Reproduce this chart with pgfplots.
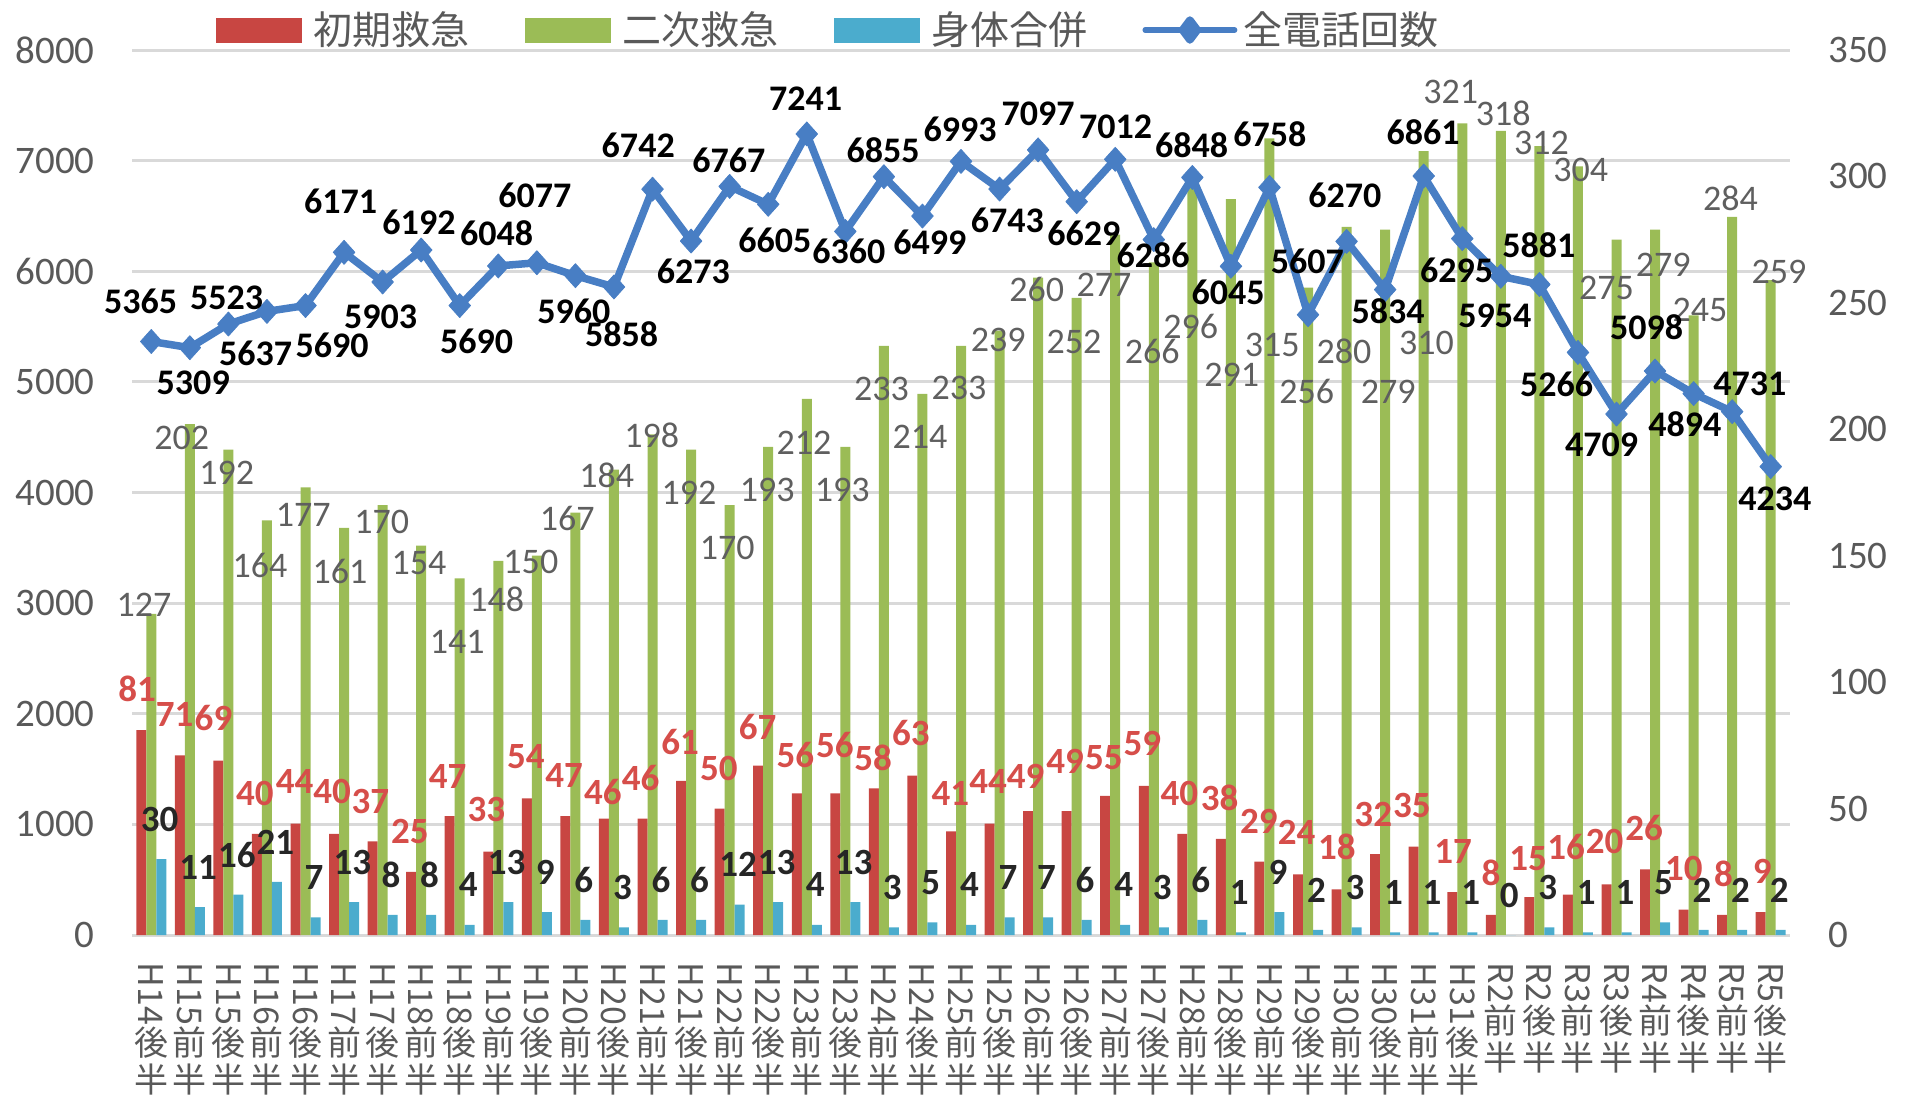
\documentclass[border=0pt]{standalone}
\usepackage{fontspec}
\setmainfont{Carlito}
\newfontfamily\jp{Noto Sans CJK JP}
\usepackage{graphicx}
\usepackage{pgfplots}
\usepackage{pgfplotstable}
\pgfplotsset{compat=1.18}

\definecolor{cred}{RGB}{200,70,66}
\definecolor{clred}{RGB}{214,78,74}
\definecolor{cgreen}{RGB}{155,188,86}
\definecolor{ccyan}{RGB}{75,172,205}
\definecolor{cblue}{RGB}{72,126,196}
\definecolor{tgray}{RGB}{89,89,89}
\definecolor{ggray}{RGB}{95,95,95}
\definecolor{gridc}{RGB}{217,217,217}
\definecolor{cdark}{RGB}{38,38,38}

\pgfplotsset{
  /pgf/number format/assume math mode=true,
  /pgf/number format/1000 sep={},
  base/.style={at={(66pt,85pt)}, anchor=south west, width=829pt, height=442.5pt,
    scale only axis, xmin=-0.5, xmax=42.5, clip=false},
}
\newcommand{\xtl}[2]{\rotatebox{-90}{#1}\\#2\\半}

% x  g(二次) r(初期) c(身体合併) label offsets (pt)
\pgfplotstableread{
x g r c gdx gdy rdx rdy
0 127 81 30 -3.65 4.5 -2.1 20.5
1 202 71 11 -4.1 -7 -2.6 20.25
2 192 69 16 -0.85 -11.9 -2.45 21.5
3 164 40 21 -3.5 -22.35 -1.05 20.3
4 177 44 7 -1.1 -13.8 -0.5 21
5 161 40 13 -2.05 -21.9 -1 21.1
6 170 37 8 -0.5 -8.3 -1.15 19.85
7 154 25 8 -1.1 -8.85 -0.6 20
8 141 47 4 -1.25 -31.6 -1.1 19.75
9 148 33 13 -0.8 -19.1 -0.95 20.8
10 150 54 9 -3 -3 -0.5 20.9
11 167 47 6 -4.1 -2.8 -0.6 20.5
12 184 46 3 -3.65 -2.65 -0.5 13.5
13 198 46 6 -0.45 -0.35 -1 20.2
14 192 61 6 -1.05 -21.9 -0.5 19.5
15 170 50 12 -1.2 -21.6 -0.35 20.15
16 193 67 13 -0.5 -21.5 -0.3 19.5
17 212 56 4 -1.4 -22.15 -0.7 19.2
18 193 56 13 -1.5 -21.5 -0.25 24.2
19 233 58 3 -1.15 -21.6 -0.35 15
20 214 63 5 -1.25 -21.4 -0.8 21.2
21 233 41 4 -1 -21 -0.35 19
22 239 44 7 -0.65 -4.65 -0.75 21
23 260 49 7 -0.75 -6.2 -1.25 17.2
24 252 49 6 -1.35 -21.95 -0.75 24.7
25 277 55 4 -5.65 -25.2 -0.65 19.3
26 266 59 3 -0.8 -44.65 -0.75 21.25
27 296 40 6 -0.85 -70.1 -1.55 20
28 291 38 1 0.35 -87.9 -0.7 20.3
29 315 29 9 1.4 -103.25 -0.25 20
30 256 24 2 -0.65 -52 -0.75 21
31 280 18 3 -1.35 -62.35 0.2 21.1
32 279 32 1 1.5 -81 -0.95 19.55
33 310 35 1 1.45 -96.1 -0.95 20.75
34 321 17 1 -5.8 15.8 0.45 20.15
35 318 8 0 1.2 8.8 0.1 20.75
36 312 15 3 1.1 1.4 -0.6 19.4
37 304 16 1 1.35 -1.85 -0.95 23.9
38 275 20 1 -4.95 -24.35 -0.95 21.35
39 279 26 5 4.05 -17.75 -0.45 20.5
40 245 10 2 3.15 2.75 0.1 20.7
41 284 8 2 -0.8 9.3 0.6 20.4
42 259 9 2 4.1 4.2 0.8 20.25
}\bardata

% x  t(全電話回数) label offsets (pt)
\pgfplotstableread{
x t ldx ldy
0 5365 -5.3 19.9
1 5309 1.7 -17.8
2 5523 -0.85 13.35
3 5637 -5.65 -21
4 5690 13.25 -19.75
5 6171 -1.7 25.3
6 5903 -1 -17.65
7 6192 -1.1 13.85
8 5690 8.45 -18.1
9 6048 -0.8 16.35
10 6077 -1 33.5
11 5960 -0.75 -18
12 5858 3.85 -23.5
13 6742 -7.15 22.1
14 6273 1.1 -15.35
15 6767 -0.35 13.2
16 6605 3.35 -18.2
17 7241 -0.55 17.5
18 6360 1.8 -10.15
19 6855 -0.35 13
20 6499 3.75 -13.15
21 6993 -0.5 16
22 6743 3.85 -15.85
23 7097 0 18
24 6629 3.65 -15.8
25 7012 0.2 16
26 6286 -0.3 -8
27 6848 -0.35 16.2
28 6045 -1.35 -13
29 6758 0.25 26.7
30 5607 -0.35 26.5
31 6270 -0.85 23.2
32 5834 1.5 -10.8
33 6861 -0.25 22.15
34 6295 -2.8 -15.7
35 5954 -2.95 -19.7
36 5881 -0.25 19.7
37 5266 -10.65 -15.75
38 4709 -7.5 -15.5
39 5098 -4.25 22.15
40 4894 -4.35 -15.2
41 4731 8.85 13.8
42 4234 2.1 -16.2
}\linedata

\begin{document}
\begin{tikzpicture}
\useasboundingbox (0,0) rectangle (953pt,552.5pt);

% grid, left axis, category labels
\begin{axis}[base,
  ymin=0, ymax=8000, ytick={0,1000,...,8000}, scaled y ticks=false,
  ymajorgrids, grid style={gridc, line width=1.5pt},
  axis x line*=bottom, axis y line*=left, axis line style={draw=none},
  tick style={draw=none},
  yticklabel style={font=\fontsize{19.5}{21}\selectfont, text=tgray, inner sep=0pt, xshift=-18.5pt},
  xtick={0,...,42},
  xticklabels={{\xtl{H14}{後}},{\xtl{H15}{前}},{\xtl{H15}{後}},{\xtl{H16}{前}},{\xtl{H16}{後}},
    {\xtl{H17}{前}},{\xtl{H17}{後}},{\xtl{H18}{前}},{\xtl{H18}{後}},{\xtl{H19}{前}},{\xtl{H19}{後}},
    {\xtl{H20}{前}},{\xtl{H20}{後}},{\xtl{H21}{前}},{\xtl{H21}{後}},{\xtl{H22}{前}},{\xtl{H22}{後}},
    {\xtl{H23}{前}},{\xtl{H23}{後}},{\xtl{H24}{前}},{\xtl{H24}{後}},{\xtl{H25}{前}},{\xtl{H25}{後}},
    {\xtl{H26}{前}},{\xtl{H26}{後}},{\xtl{H27}{前}},{\xtl{H27}{後}},{\xtl{H28}{前}},{\xtl{H28}{後}},
    {\xtl{H29}{前}},{\xtl{H29}{後}},{\xtl{H30}{前}},{\xtl{H30}{後}},{\xtl{H31}{前}},{\xtl{H31}{後}},
    {\xtl{R2}{前}},{\xtl{R2}{後}},{\xtl{R3}{前}},{\xtl{R3}{後}},{\xtl{R4}{前}},{\xtl{R4}{後}},
    {\xtl{R5}{前}},{\xtl{R5}{後}}},
  xticklabel style={font=\jp\fontsize{17}{18.5}\selectfont, text=tgray, align=center,
    anchor=north, inner sep=0pt, yshift=-13.5pt},
]
\addplot[draw=none] coordinates {(0,0)};
\end{axis}

% bars, right axis
\begin{axis}[base,
  ymin=0, ymax=350, ytick={0,50,...,350},
  axis x line=none, axis y line*=right, axis line style={draw=none}, tick style={draw=none},
  yticklabel style={font=\fontsize{19.5}{21}\selectfont, text=tgray, inner sep=0pt, xshift=19pt},
]
\addplot[ybar, bar width=5pt, bar shift=-5pt, fill=cred, draw=none] table[x=x,y=r] {\bardata};
\addplot[ybar, bar width=5pt, bar shift=0pt, fill=cgreen, draw=none] table[x=x,y=g] {\bardata};
\addplot[ybar, bar width=5pt, bar shift=5pt, fill=ccyan, draw=none] table[x=x,y=c] {\bardata};
% labels
\addplot[ybar, bar width=5pt, bar shift=0pt, draw=none, fill=none,
  nodes near coords,
  visualization depends on={\thisrow{gdx}\as\ldx},
  visualization depends on={\thisrow{gdy}\as\ldy},
  every node near coord/.append style={anchor=center, inner sep=0pt, xshift=\ldx, yshift=\ldy,
    font=\fontsize{18}{20}\selectfont, text=ggray}]
  table[x=x,y=g] {\bardata};
\addplot[ybar, bar width=5pt, bar shift=0pt, draw=none, fill=none,
  nodes near coords,
  visualization depends on={\thisrow{rdx}-5\as\ldx},
  visualization depends on={\thisrow{rdy}\as\ldy},
  every node near coord/.append style={anchor=center, inner sep=0pt, xshift=\ldx, yshift=\ldy,
    font=\bfseries\fontsize{18.5}{20}\selectfont, text=clred}]
  table[x=x,y=r] {\bardata};
\addplot[ybar, bar width=5pt, bar shift=0pt, draw=none, fill=none,
  nodes near coords,
  every node near coord/.append style={anchor=center, inner sep=0pt, xshift=4.2pt, yshift=20pt,
    font=\bfseries\fontsize{18.5}{20}\selectfont, text=cdark}]
  table[x=x,y=c] {\bardata};
\end{axis}

% line, legend
\begin{axis}[base,
  ymin=0, ymax=8000, hide axis,
  legend columns=4,
  legend style={at={(axis description cs:0.0507,1.0226)}, anchor=west, draw=none, fill=none,
    inner sep=0pt, outer sep=0pt, font=\jp\fontsize{19.5}{21}\selectfont, text=tgray,
    nodes={inner sep=0pt},
    /tikz/every odd column/.append style={column sep=6pt},
    /tikz/every even column/.append style={column sep=27.5pt}},
]
\addlegendimage{legend image code/.code={\fill[cred] (0pt,-6pt) rectangle (42.5pt,6pt);}}
\addlegendentry{初期救急}
\addlegendimage{legend image code/.code={\fill[cgreen] (0pt,-6pt) rectangle (42.5pt,6pt);}}
\addlegendentry{二次救急}
\addlegendimage{legend image code/.code={\fill[ccyan] (0pt,-6pt) rectangle (42.5pt,6pt);}}
\addlegendentry{身体合併\hspace{-8pt}}
\addplot[cblue, line width=3.75pt, line join=round, mark=diamond*, mark size=6pt,
  mark options={solid, line width=0.4pt, xscale=1.2},
  legend image code/.code={
    \draw[cblue, line width=2.75pt, line cap=round] (1.4pt,0pt) -- (46.1pt,0pt);
    \fill[cblue] (23.75pt,-5pt) -- (27.5pt,0pt) -- (23.75pt,5pt) -- (20pt,0pt) -- cycle;}]
  table[x=x,y=t] {\linedata};
\addlegendentry{\hspace{-3pt}全電話回数}
\addplot[forget plot, draw=none, mark=none,
  nodes near coords,
  visualization depends on={\thisrow{ldx}\as\ldx},
  visualization depends on={\thisrow{ldy}\as\ldy},
  every node near coord/.append style={anchor=center, inner sep=0pt, xshift=\ldx, yshift=\ldy,
    font=\bfseries\fontsize{18}{20}\selectfont, text=black}]
  table[x=x,y=t] {\linedata};
\end{axis}
\end{tikzpicture}
\end{document}
